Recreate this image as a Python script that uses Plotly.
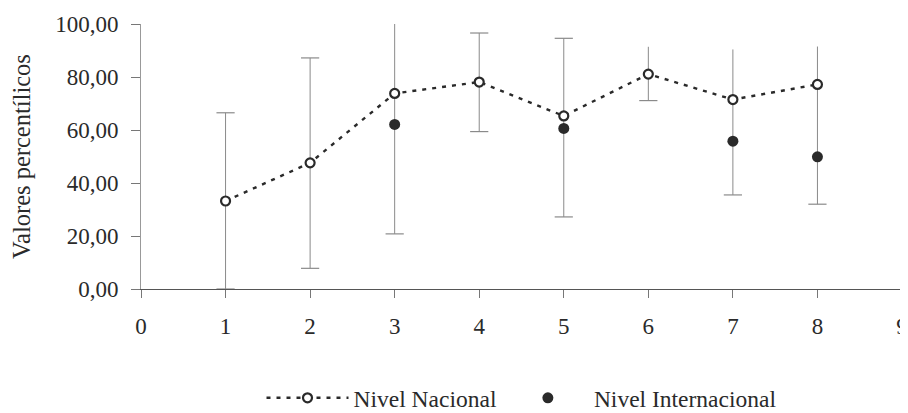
import plotly.graph_objects as go

x_nac = [1, 2, 3, 4, 5, 6, 7, 8]
y_nac = [33.2, 47.6, 73.8, 78.1, 65.3, 81.1, 71.5, 77.2]

x_int = [3, 5, 7, 8]
y_int = [62.1, 60.6, 55.8, 49.9]

# Range bars (lower / upper limit at each position)
x_bar = [1, 2, 3, 4, 5, 6, 7, 8]
bar_low = [0.0, 7.8, 20.8, 59.4, 27.2, 71.1, 35.5, 32.0]
bar_high = [66.5, 87.2, 103.0, 96.6, 94.6, 91.4, 90.4, 91.5]
# upper limits that show a cross-bar in the original
x_topcap = [1, 2, 4, 5]
topcap_val = [66.5, 87.2, 96.6, 94.6]

x_ticks = list(range(0, 10))
y_ticks = [0, 20, 40, 60, 80, 100]
y_tick_labels = ["0,00", "20,00", "40,00", "60,00", "80,00", "100,00"]

FONT = "Liberation Serif, Times New Roman, serif"
INK = "#2a2a2a"
BAR = "#8a8a8a"

fig = go.Figure()

# stems of the range bars (no cross-bars)
fig.add_trace(go.Scatter(
    x=x_bar, y=bar_low, mode="markers", showlegend=False, hoverinfo="skip",
    marker=dict(opacity=0, size=1),
    error_y=dict(type="data", symmetric=False,
                 array=[h - l for h, l in zip(bar_high, bar_low)],
                 arrayminus=[0] * len(bar_low),
                 color=BAR, thickness=1, width=0),
))
# lower cross-bars
fig.add_trace(go.Scatter(
    x=x_bar, y=bar_low, mode="markers", showlegend=False, hoverinfo="skip",
    marker=dict(symbol="line-ew", size=13, line=dict(color=BAR, width=1.2)),
))
# upper cross-bars
fig.add_trace(go.Scatter(
    x=x_topcap, y=topcap_val, mode="markers", showlegend=False, hoverinfo="skip",
    marker=dict(symbol="line-ew", size=13, line=dict(color=BAR, width=1.2)),
))

fig.add_trace(go.Scatter(
    x=x_nac, y=y_nac, name="Nivel Nacional",
    mode="lines+markers",
    line=dict(color=INK, width=2.4, dash="4px,6px"),
    marker=dict(symbol="circle", size=9, color="white",
                line=dict(color=INK, width=2.2)),
))

fig.add_trace(go.Scatter(
    x=x_int, y=y_int, name="Nivel Internacional",
    mode="markers",
    marker=dict(symbol="circle", size=11, color=INK),
))

# the page adds an 8px body margin, so the figure is 8px smaller
fig.update_layout(
    width=900, height=405,
    margin=dict(l=133, r=6, t=16, b=124),
    paper_bgcolor="white", plot_bgcolor="white",
    font=dict(family=FONT, size=22, color=INK),
    showlegend=True,
    legend=dict(orientation="h", x=0.5, xanchor="center",
                yref="container", y=0.037, yanchor="middle",
                font=dict(family=FONT, size=23.5, color=INK),
                itemwidth=82, bgcolor="rgba(0,0,0,0)"),
)

fig.update_xaxes(
    range=[0, 9], tickmode="array", tickvals=x_ticks,
    ticktext=[str(v) for v in x_ticks],
    showgrid=False, zeroline=False, automargin=False,
    showline=True, linecolor="#555", linewidth=1.2,
    ticks="outside", ticklen=8, tickcolor="#777",
    ticklabelstandoff=8,
    tickfont=dict(family=FONT, size=23, color=INK),
)
fig.update_yaxes(
    range=[0, 100], tickmode="array", tickvals=y_ticks,
    ticktext=y_tick_labels,
    showgrid=False, zeroline=False, automargin=False,
    showline=True, linecolor="#999", linewidth=1,
    ticks="outside", ticklen=9, tickcolor="#777",
    ticklabelstandoff=8,
    tickfont=dict(family=FONT, size=23, color=INK),
    title=dict(text="Valores percentílicos", standoff=20,
               font=dict(family=FONT, size=24.5, color=INK)),
)

fig.write_html("out.html")
